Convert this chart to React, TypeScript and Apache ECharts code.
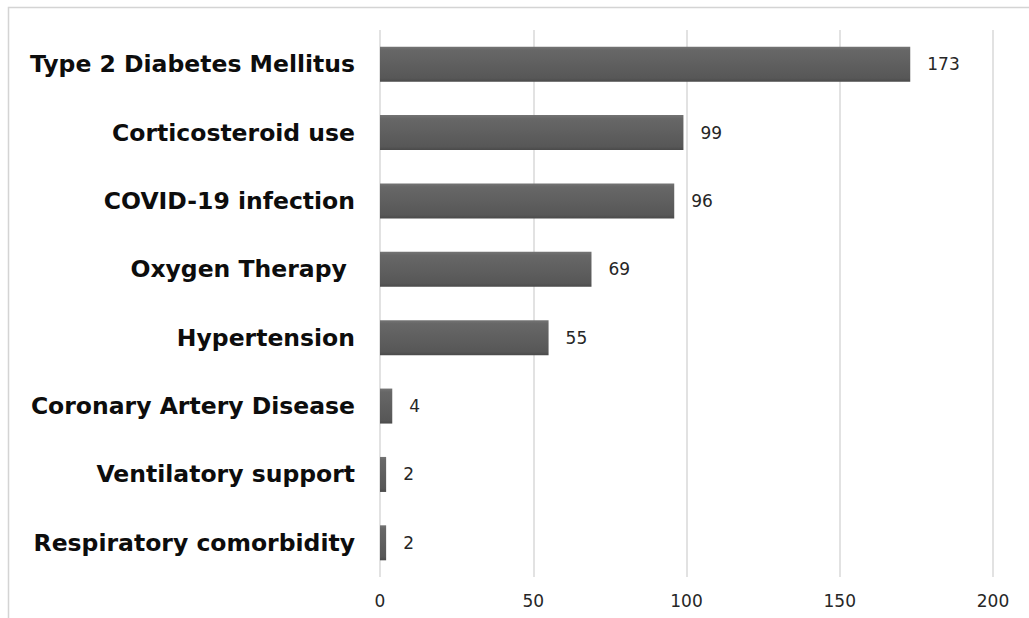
import React, { useEffect, useRef } from "react";
import * as echarts from "echarts";

const categories = [
  "Type 2 Diabetes Mellitus",
  "Corticosteroid use",
  "COVID-19 infection",
  "Oxygen Therapy ",
  "Hypertension",
  "Coronary Artery Disease",
  "Ventilatory support",
  "Respiratory comorbidity",
];
const values = [173, 99, 96, 69, 55, 4, 2, 2];
const xTicks = [0, 50, 100, 150, 200];

export default function App() {
  const ref = useRef<HTMLDivElement>(null);
  useEffect(() => {
    if (!ref.current) return;
    const chart = echarts.init(ref.current, undefined, { renderer: "svg" });
    chart.setOption({
      animation: false,
      backgroundColor: "#ffffff",
      graphic: [
        {
          type: "rect",
          shape: { x: 8.5, y: 7.5, width: 1040, height: 640 },
          style: { fill: "none", stroke: "#d4d4d4", lineWidth: 1.5 },
          silent: true,
        },
      ],
      grid: { left: 380, right: 36, top: 30, bottom: 41, containLabel: false },
      xAxis: {
        type: "value",
        min: xTicks[0],
        max: xTicks[xTicks.length - 1],
        interval: 50,
        axisLine: { show: false },
        axisTick: { show: false },
        splitLine: { show: true, lineStyle: { color: "#d9d9d9", width: 1.5 } },
        axisLabel: {
          color: "#262626",
          fontSize: 17,
          fontFamily: "DejaVu Sans, sans-serif",
          margin: 15,
        },
      },
      yAxis: {
        type: "category",
        data: categories,
        inverse: true,
        axisLine: { show: false },
        axisTick: { show: false },
        axisLabel: {
          color: "#0d0d0d",
          fontSize: 23.5,
          fontWeight: "bold",
          fontFamily: "DejaVu Sans, sans-serif",
          margin: 25,
        },
      },
      series: [
        {
          type: "bar",
          data: values,
          barWidth: 35,
          itemStyle: {
            color: new echarts.graphic.LinearGradient(0, 0, 0, 1, [
              { offset: 0, color: "#747474" },
              { offset: 0.1, color: "#676767" },
              { offset: 0.9, color: "#575757" },
              { offset: 1, color: "#4a4a4a" },
            ]),
          },
          label: {
            show: true,
            position: "right",
            distance: 17,
            color: "#262626",
            fontSize: 17,
            fontFamily: "DejaVu Sans, sans-serif",
          },
        },
      ],
    });
    return () => chart.dispose();
  }, []);
  return (
    <div
      ref={ref}
      style={{ position: "fixed", left: 0, top: 0, width: 1029, height: 618 }}
    />
  );
}
